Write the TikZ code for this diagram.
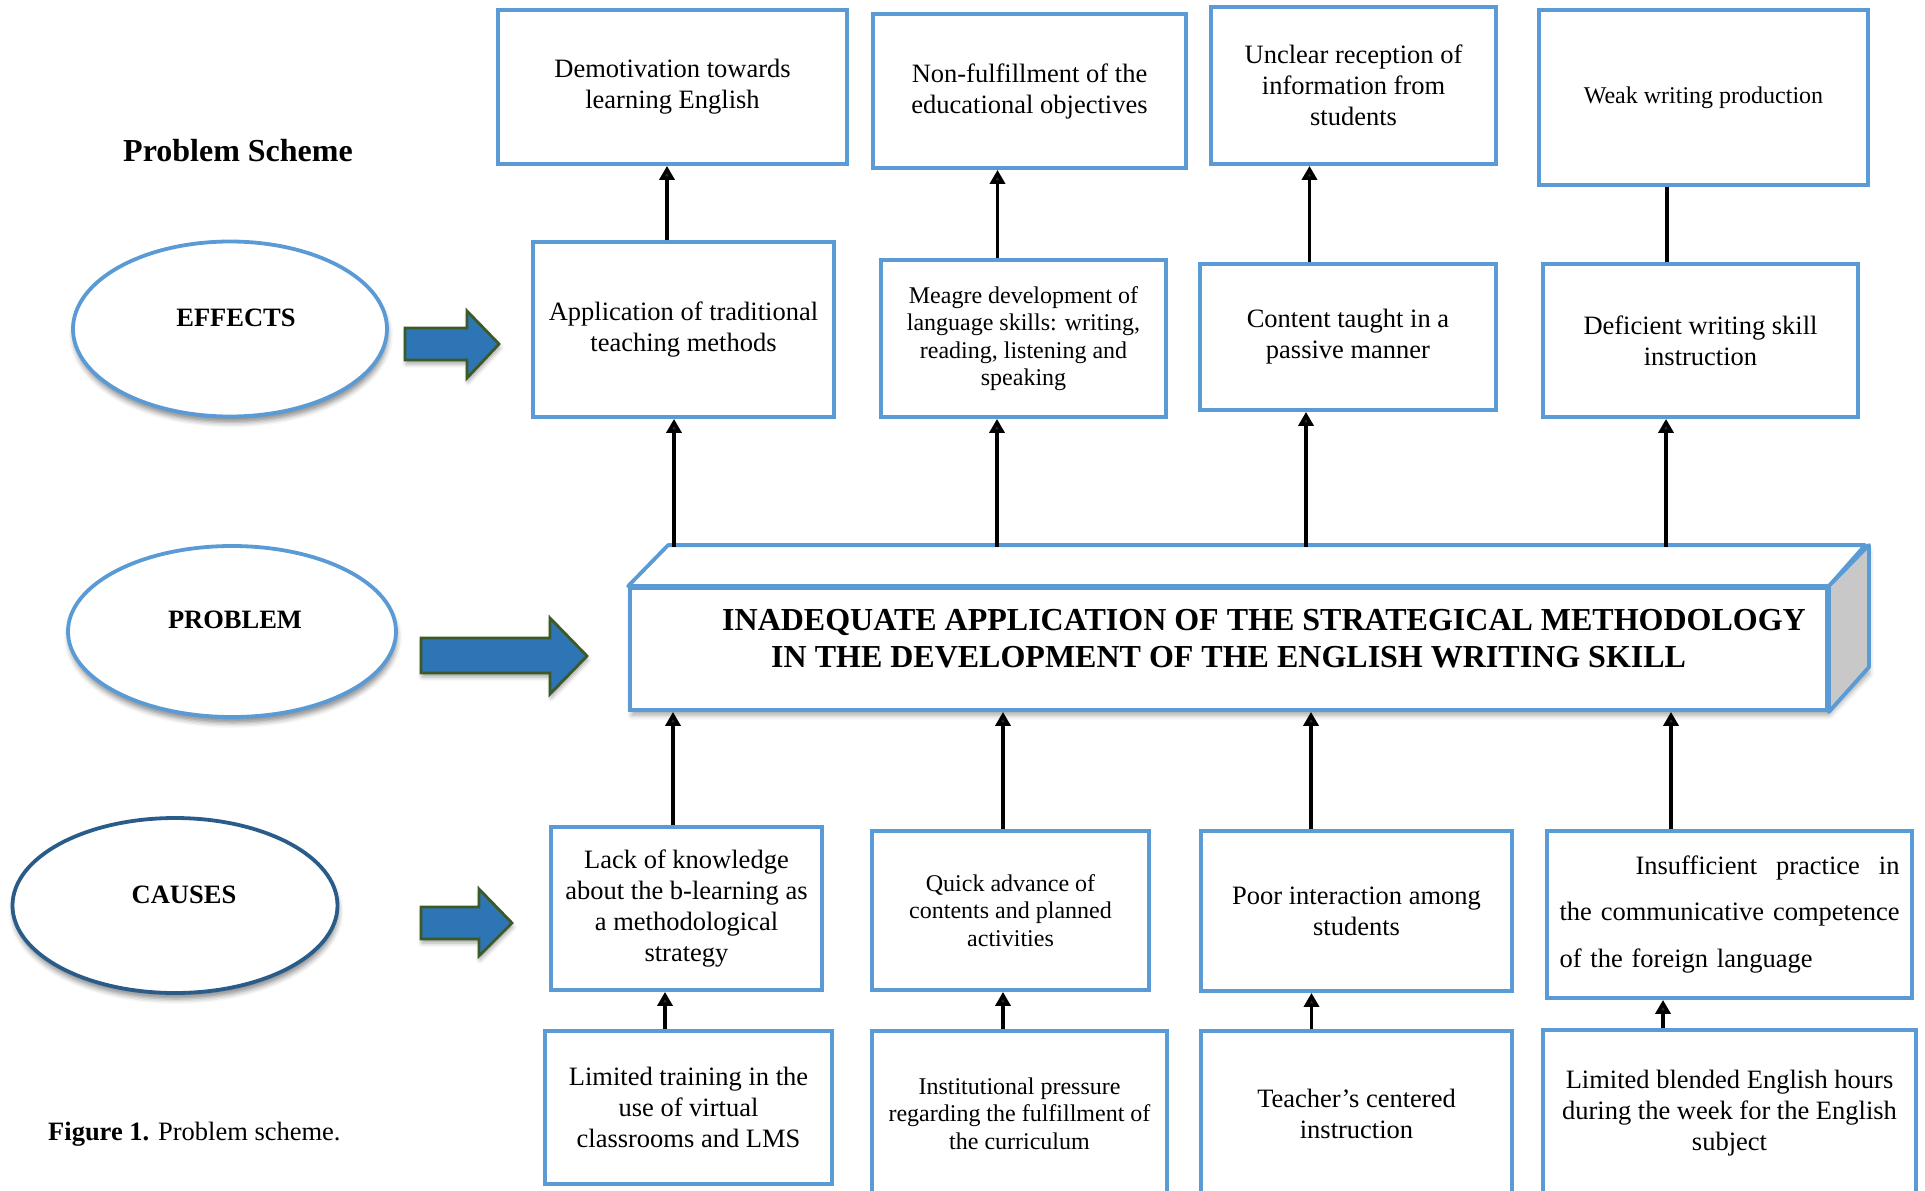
\documentclass[tikz,border=0pt]{standalone}
\usepackage{fontspec}
\setmainfont{Liberation Serif}
\usetikzlibrary{arrows.meta,shapes.geometric,shadows.blur}

\definecolor{boxblue}{HTML}{5B9BD5}
\definecolor{navyline}{HTML}{2A5C8A}
\definecolor{arrowfill}{HTML}{2E75B6}
\definecolor{arrowedge}{HTML}{3B5A28}
\definecolor{sidegray}{HTML}{C8C8C8}

\newcommand\bigtxt{\fontsize{26.5}{31}\selectfont}
\newcommand\smalltxt{\fontsize{24}{27.5}\selectfont}

\tikzset{
  box/.style={draw=boxblue, line width=3.8pt, fill=white, align=center,
    inner sep=0pt, font=\bigtxt},
  smallbox/.style={box, font=\smalltxt},
  oval/.style={ellipse, draw=boxblue, line width=3.8pt, fill=white, inner sep=0pt,
    blur shadow={shadow xshift=1pt, shadow yshift=-6pt,
      shadow blur radius=5pt, shadow opacity=45}},
  ovallabel/.style={font=\bfseries\bigtxt, inner sep=0pt},
  link/.style={line width=3.8pt, -{Triangle[length=14pt,width=15pt]}},
  plainlink/.style={line width=3.8pt},
  face/.style={draw=boxblue, line width=3.8pt, line join=round},
  probtext/.style={font=\bfseries\fontsize{32}{38}\selectfont, inner sep=0pt,
    anchor=base west},
  blockarrow/.style={fill=arrowfill, draw=arrowedge, line width=2.8pt,
    line join=miter,
    blur shadow={shadow xshift=1pt, shadow yshift=-4pt,
      shadow blur radius=4pt, shadow opacity=35}},
}

\begin{document}
\begin{tikzpicture}[x=1pt, y=-1pt]
\useasboundingbox (0,0) rectangle (1925,1191);
\clip (0,0) rectangle (1925,1191);

% heading and caption
\node[font=\bfseries\fontsize{32}{38}\selectfont, inner sep=0pt, anchor=base west]
  (title) at (123,161) {Problem Scheme};
\node[font=\bigtxt, inner sep=0pt, anchor=base west]
  (caption) at (48,1140) {\textbf{Figure 1.} Problem scheme.};

% level ovals
\node[oval, minimum width=314pt, minimum height=175pt] (effects) at (230,329) {};
\node[ovallabel] (effectsLbl) at (236,318) {EFFECTS};
\node[oval, minimum width=328pt, minimum height=171pt] (problem) at (232,631.5) {};
\node[ovallabel] (problemLbl) at (235,620) {PROBLEM};
\node[oval, draw=navyline, minimum width=325pt, minimum height=175pt] (causes) at (175,905.5) {};
\node[ovallabel] (causesLbl) at (184,895) {CAUSES};

% block arrows pointing at each level
\draw[blockarrow] (405,328) -- (467,328) -- (467,311) -- (499,344) -- (467,378)
  -- (467,360) -- (405,360) -- cycle;
\draw[blockarrow] (421,638) -- (550,638) -- (550,618) -- (587,656) -- (550,694)
  -- (550,673) -- (421,673) -- cycle;
\draw[blockarrow] (421,907) -- (479,907) -- (479,889) -- (512,923) -- (479,956)
  -- (479,939) -- (421,939) -- cycle;

% effects, upper row
\node[box, minimum width=349pt, minimum height=154pt] (e1) at (672.5,87)
  {Demotivation towards\\learning English};
\node[box, minimum width=313pt, minimum height=154pt] (e2) at (1029.5,91)
  {Non-fulfillment of the\\educational objectives};
\node[box, minimum width=285pt, minimum height=157pt] (e3) at (1353.5,85.5)
  {Unclear reception of\\information from\\students};
\node[smallbox, minimum width=329pt, minimum height=175pt] (e4) at (1703.5,97.5)
  {Weak writing production};

% effects, lower row
\node[box, minimum width=301pt, minimum height=175pt] (f1) at (683.5,329.5)
  {Application of traditional\\teaching methods};
\node[smallbox, minimum width=285pt, minimum height=157pt] (f2) at (1023.5,338.5)
  {Meagre development of\\language skills: writing,\\reading, listening and\\speaking};
\node[box, minimum width=296pt, minimum height=146pt] (f3) at (1348,337)
  {Content taught in a\\passive manner};
\node[box, minimum width=315pt, minimum height=153pt] (f4) at (1700.5,340.5)
  {Deficient writing skill\\instruction};

% central problem block (front, top and side faces)
\fill[white, blur shadow={shadow xshift=2pt, shadow yshift=-5pt,
      shadow blur radius=5pt, shadow opacity=35}]
  (630,710) -- (630,588) -- (670,547) -- (1867,547) -- (1867,669) -- (1827,710) -- cycle;
\node[draw=boxblue, line width=3.8pt, fill=white, inner sep=0pt,
  minimum width=1197pt, minimum height=122pt] (prob) at (1228.5,649) {};
\draw[face, fill=white] (prob.north west) -- ++(40,-41) -- ++(1197,0)
  -- (prob.north east) -- cycle;
\draw[face, fill=sidegray] (prob.north east) -- ++(40,-41) -- ++(0,122)
  -- (prob.south east) -- cycle;
\node[probtext] (probL1) at (722,630.6)
  {INADEQUATE APPLICATION OF THE STRATEGICAL METHODOLOGY};
\node[probtext] (probL2) at (771,667.6)
  {IN THE DEVELOPMENT OF THE ENGLISH WRITING SKILL};

% causes, upper row
\node[box, minimum width=271pt, minimum height=163pt] (g1) at (686.5,908.5)
  {Lack of knowledge\\about the b-learning as\\a methodological\\strategy};
\node[smallbox, minimum width=277pt, minimum height=159pt] (g2) at (1010.5,910.5)
  {Quick advance of\\contents and planned\\activities};
\node[box, minimum width=311pt, minimum height=160pt] (g3) at (1356.5,911)
  {Poor interaction among\\students};
\node[box, minimum width=365pt, minimum height=167pt, text width=340pt, align=left,
  font=\fontsize{26.5}{46.5}\selectfont] (g4) at (1729.5,914.5)
  {\hspace*{76pt}Insufficient\hfill practice\hfill in\\
   the\hfill communicative\hfill competence\\
   of the foreign language};

% causes, lower row
\node[box, minimum width=287pt, minimum height=153pt] (h1) at (688.5,1107.5)
  {Limited training in the\\use of virtual\\classrooms and LMS};
\node[smallbox, minimum width=295pt, minimum height=165pt] (h2) at (1019.5,1113.5)
  {Institutional pressure\\regarding the fulfillment of\\the curriculum};
\node[box, minimum width=311pt, minimum height=165pt] (h3) at (1356.5,1113.5)
  {Teacher’s centered\\instruction};
\node[box, minimum width=373pt, minimum height=166pt] (h4) at (1729.5,1113)
  {Limited blended English hours\\during the week for the English\\subject};

% connector columns
\coordinate (ef1) at (667,0);   \coordinate (ef2) at (997.5,0);
\coordinate (ef3) at (1309.5,0); \coordinate (ef4) at (1667,0);
\coordinate (pf1) at (674,547);  \coordinate (pf2) at (997,547);
\coordinate (pf3) at (1306,547); \coordinate (pf4) at (1666,547);
\coordinate (gp1) at (673,0);   \coordinate (gp2) at (1003,0);
\coordinate (gp3) at (1311,0);  \coordinate (gp4) at (1671,0);
\coordinate (hg1) at (665,0);   \coordinate (hg2) at (1003,0);
\coordinate (hg3) at (1311.5,0); \coordinate (hg4) at (1663,0);

% effects links
\draw[link] (f1.north -| ef1) -- (e1.south -| ef1);
\draw[link] (f2.north -| ef2) -- (e2.south -| ef2);
\draw[link] (f3.north -| ef3) -- (e3.south -| ef3);
\draw[plainlink] (f4.north -| ef4) -- (e4.south -| ef4);

% problem to effects
\draw[link] (pf1) -- (f1.south -| pf1);
\draw[link] (pf2) -- (f2.south -| pf2);
\draw[link] (pf3) -- (f3.south -| pf3);
\draw[link] (pf4) -- (f4.south -| pf4);

% causes to problem
\draw[link] (g1.north -| gp1) -- (prob.south -| gp1);
\draw[link] (g2.north -| gp2) -- (prob.south -| gp2);
\draw[link] (g3.north -| gp3) -- (prob.south -| gp3);
\draw[link] (g4.north -| gp4) -- (prob.south -| gp4);

% root causes to causes
\draw[link] (h1.north -| hg1) -- (g1.south -| hg1);
\draw[link] (h2.north -| hg2) -- (g2.south -| hg2);
\draw[link] (h3.north -| hg3) -- (g3.south -| hg3);
\draw[link] (h4.north -| hg4) -- (g4.south -| hg4);
\end{tikzpicture}
\end{document}
